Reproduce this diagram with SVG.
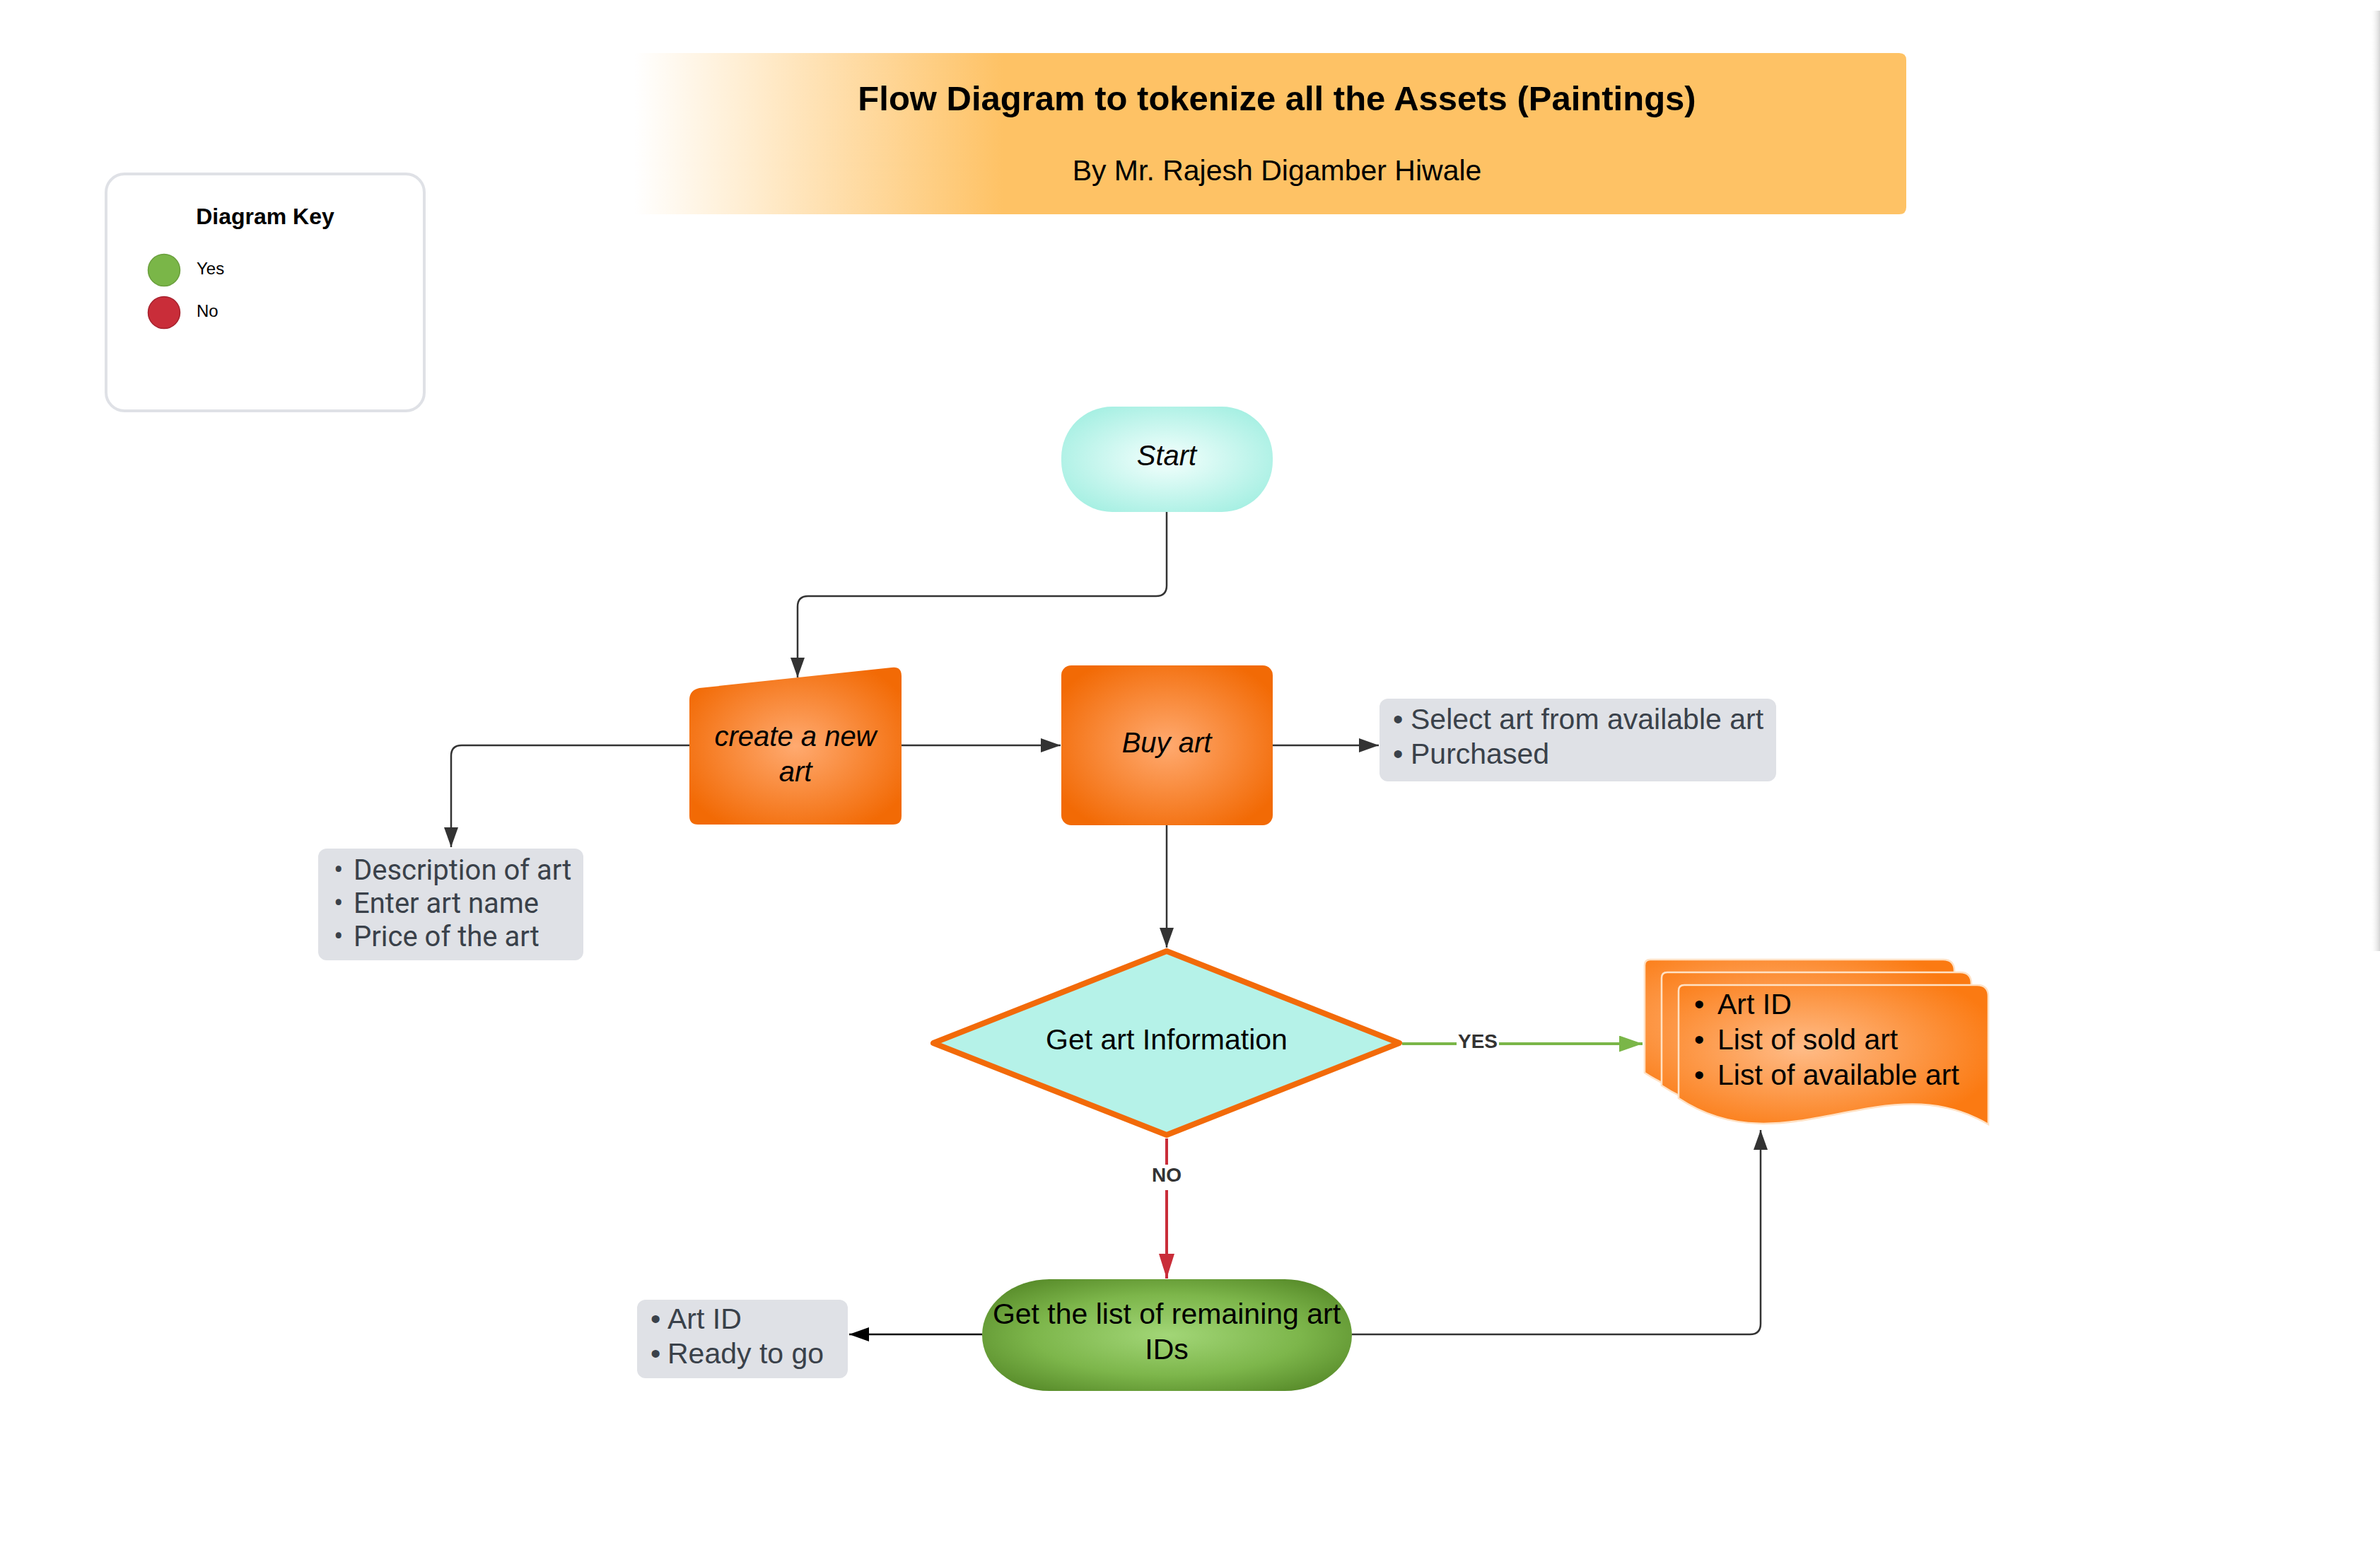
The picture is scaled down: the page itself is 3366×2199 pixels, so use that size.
<svg xmlns="http://www.w3.org/2000/svg" width="3366" height="2199" viewBox="0 0 3366 2199">
<style>
  text { font-family: "Liberation Sans", Arial, sans-serif; }
  .body { font-size: 41px; fill: #000; }
  .ital { font-size: 40px; font-style: italic; fill: #000; }
  .note { font-size: 41px; fill: #3A414A; }
  .roboto { font-family: Roboto, "Liberation Sans", sans-serif; font-size: 40px; fill: #3A414A; }
  .conn { fill: none; stroke: #333333; stroke-width: 2.5; }
  .lbl { font-size: 28px; font-weight: bold; fill: #333333; text-anchor: middle; }
  .notebox { fill: #DFE1E6; }
</style>
<defs>
  <linearGradient id="titleGrad" x1="0" y1="0" x2="1" y2="0">
    <stop offset="0" stop-color="#FFFFFF"/>
    <stop offset="0.1" stop-color="#FFEBCB"/>
    <stop offset="0.29" stop-color="#FEC265"/>
    <stop offset="1" stop-color="#FEC265"/>
  </linearGradient>
  <radialGradient id="startGrad" cx="0.5" cy="0.5" r="0.6">
    <stop offset="0" stop-color="#F4FFFD"/>
    <stop offset="1" stop-color="#A4EFE2"/>
  </radialGradient>
  <radialGradient id="orangeGrad" cx="0.5" cy="0.5" r="0.6">
    <stop offset="0" stop-color="#FFAA70"/>
    <stop offset="1" stop-color="#F26A05"/>
  </radialGradient>
  <radialGradient id="docGrad" cx="0.4" cy="0.45" r="0.65">
    <stop offset="0" stop-color="#FFBC88"/>
    <stop offset="1" stop-color="#FB7A12"/>
  </radialGradient>
  <radialGradient id="greenGrad" cx="0.5" cy="0.5" r="0.6">
    <stop offset="0" stop-color="#A2D677"/>
    <stop offset="0.6" stop-color="#7DB64B"/>
    <stop offset="1" stop-color="#5A8E2C"/>
  </radialGradient>
  <linearGradient id="edgeShadow" x1="0" y1="0" x2="1" y2="0">
    <stop offset="0" stop-color="#FFFFFF" stop-opacity="0"/>
    <stop offset="1" stop-color="#D4D4D4"/>
  </linearGradient>
  <marker id="arrDark" viewBox="0 0 28 20" refX="28" refY="10" markerWidth="28" markerHeight="20" markerUnits="userSpaceOnUse" orient="auto">
    <path d="M0,0 L28,10 L0,20 Z" fill="#333333"/>
  </marker>
  <marker id="arrBlack" viewBox="0 0 28 20" refX="28" refY="10" markerWidth="28" markerHeight="20" markerUnits="userSpaceOnUse" orient="auto">
    <path d="M0,0 L28,10 L0,20 Z" fill="#000000"/>
  </marker>
  <marker id="arrGreen" viewBox="0 0 33 23" refX="33" refY="11.5" markerWidth="33" markerHeight="23" markerUnits="userSpaceOnUse" orient="auto">
    <path d="M0,0 L33,11.5 L0,23 Z" fill="#7AB648"/>
  </marker>
  <marker id="arrRed" viewBox="0 0 35 22" refX="35" refY="11" markerWidth="35" markerHeight="22" markerUnits="userSpaceOnUse" orient="auto">
    <path d="M0,0 L35,11 L0,22 Z" fill="#C92D39"/>
  </marker>
  <path id="docPage" d="M0,8 Q0,0 8,0 H422 Q438,0 438,16 V197 C290,110 150,260 0,160 Z"/>
</defs>

<rect x="0" y="0" width="3366" height="2199" fill="#FFFFFF"/>
<rect x="3352" y="15" width="14" height="1330" fill="url(#edgeShadow)"/>

<g id="title">
  <path d="M897,75 H2686 Q2696,75 2696,85 V293 Q2696,303 2686,303 H897 Z" fill="url(#titleGrad)"/>
  <text x="1806" y="156" text-anchor="middle" font-size="49" font-weight="bold" fill="#000">Flow Diagram to tokenize all the Assets (Paintings)</text>
  <text x="1806" y="255" text-anchor="middle" font-size="41" fill="#000">By Mr. Rajesh Digamber Hiwale</text>
</g>

<g id="diagram-key">
  <rect x="150" y="246" width="450" height="335" rx="26" fill="#FFFFFF" stroke="#DFE1E6" stroke-width="4"/>
  <text x="375" y="317" text-anchor="middle" font-size="32" font-weight="bold" fill="#000">Diagram Key</text>
  <circle cx="232" cy="382" r="22.5" fill="#7AB648" stroke="#6A9F3D" stroke-width="1.5"/>
  <text x="278" y="388" font-size="24" fill="#000">Yes</text>
  <circle cx="232" cy="442" r="22.5" fill="#C92D39" stroke="#A6212D" stroke-width="1.5"/>
  <text x="278" y="448" font-size="24" fill="#000">No</text>
</g>

<g id="connectors">
  <path class="conn" d="M1650,724 V828 Q1650,843 1635,843 H1143 Q1128,843 1128,858 V958" marker-end="url(#arrDark)"/>
  <path class="conn" d="M975,1054 H653 Q638,1054 638,1069 V1198" marker-end="url(#arrDark)"/>
  <path class="conn" d="M1275,1054 H1500" marker-end="url(#arrDark)"/>
  <path class="conn" d="M1800,1054 H1950" marker-end="url(#arrDark)"/>
  <path class="conn" d="M1650,1167 V1340" marker-end="url(#arrDark)"/>
  <path d="M1983,1476 H2323" fill="none" stroke="#7AB648" stroke-width="4" marker-end="url(#arrGreen)"/>
  <rect x="2060" y="1458" width="60" height="34" fill="#FFFFFF"/>
  <text class="lbl" x="2090" y="1482">YES</text>
  <path d="M1650,1610 V1808" fill="none" stroke="#C92D39" stroke-width="4" marker-end="url(#arrRed)"/>
  <rect x="1624" y="1647" width="52" height="36" fill="#FFFFFF"/>
  <text class="lbl" x="1650" y="1671">NO</text>
  <path class="conn" d="M1912,1887 H2475 Q2490,1887 2490,1872 V1598" marker-end="url(#arrDark)"/>
  <path d="M1389,1887 H1201" fill="none" stroke="#000000" stroke-width="2.5" marker-end="url(#arrBlack)"/>
</g>

<g id="start">
  <rect x="1501" y="575" width="299" height="149" rx="72" ry="72" fill="url(#startGrad)"/>
  <text class="ital" x="1650" y="658" text-anchor="middle">Start</text>
</g>

<g id="create-new-art">
  <path d="M975,990 Q975,976 989,973 L1261,944 Q1275,942 1275,956 V1154 Q1275,1166 1263,1166 H987 Q975,1166 975,1154 Z" fill="url(#orangeGrad)"/>
  <text class="ital" x="1125" y="1055" text-anchor="middle">create a new</text>
  <text class="ital" x="1125" y="1105" text-anchor="middle">art</text>
</g>

<g id="buy-art">
  <rect x="1501" y="941" width="299" height="226" rx="14" fill="url(#orangeGrad)"/>
  <text class="ital" x="1650" y="1064" text-anchor="middle">Buy art</text>
</g>

<g id="select-note">
  <rect class="notebox" x="1951" y="988" width="561" height="117" rx="12"/>
  <text class="note" x="1970" y="1031">•</text>
  <text class="note" x="1995" y="1031">Select art from available art</text>
  <text class="note" x="1970" y="1080">•</text>
  <text class="note" x="1995" y="1080">Purchased</text>
</g>

<g id="description-note">
  <rect class="notebox" x="450" y="1200" width="375" height="158" rx="12"/>
  <text class="roboto" x="472" y="1244">•</text>
  <text class="roboto" x="500" y="1244">Description of art</text>
  <text class="roboto" x="472" y="1291">•</text>
  <text class="roboto" x="500" y="1291">Enter art name</text>
  <text class="roboto" x="472" y="1338">•</text>
  <text class="roboto" x="500" y="1338">Price of the art</text>
</g>

<g id="get-art-information">
  <path d="M1650,1345 L1979,1475 L1650,1605 L1320,1475 Z" fill="#B5F2E8" stroke="#F26A09" stroke-width="8" stroke-linejoin="round"/>
  <text class="body" x="1650" y="1484" text-anchor="middle">Get art Information</text>
</g>

<g id="art-documents">
  <use href="#docPage" x="2326" y="1357" fill="url(#docGrad)" stroke="#FFE1C4" stroke-width="2.5"/>
  <use href="#docPage" x="2350" y="1375" fill="url(#docGrad)" stroke="#FFE1C4" stroke-width="2.5"/>
  <use href="#docPage" x="2374" y="1393" fill="url(#docGrad)" stroke="#FFE1C4" stroke-width="2.5"/>
  <text class="body" x="2396" y="1434">•</text>
  <text class="body" x="2429" y="1434">Art ID</text>
  <text class="body" x="2396" y="1484">•</text>
  <text class="body" x="2429" y="1484">List of sold art</text>
  <text class="body" x="2396" y="1534">•</text>
  <text class="body" x="2429" y="1534">List of available art</text>
</g>

<g id="remaining-art-ids">
  <rect x="1389" y="1809" width="523" height="158" rx="95" ry="79" fill="url(#greenGrad)"/>
  <text class="body" x="1650" y="1872" text-anchor="middle">Get the list of remaining art</text>
  <text class="body" x="1650" y="1922" text-anchor="middle">IDs</text>
</g>

<g id="ready-note">
  <rect class="notebox" x="901" y="1838" width="298" height="111" rx="12"/>
  <text class="note" x="920" y="1879">•</text>
  <text class="note" x="944" y="1879">Art ID</text>
  <text class="note" x="920" y="1928">•</text>
  <text class="note" x="944" y="1928">Ready to go</text>
</g>
</svg>
